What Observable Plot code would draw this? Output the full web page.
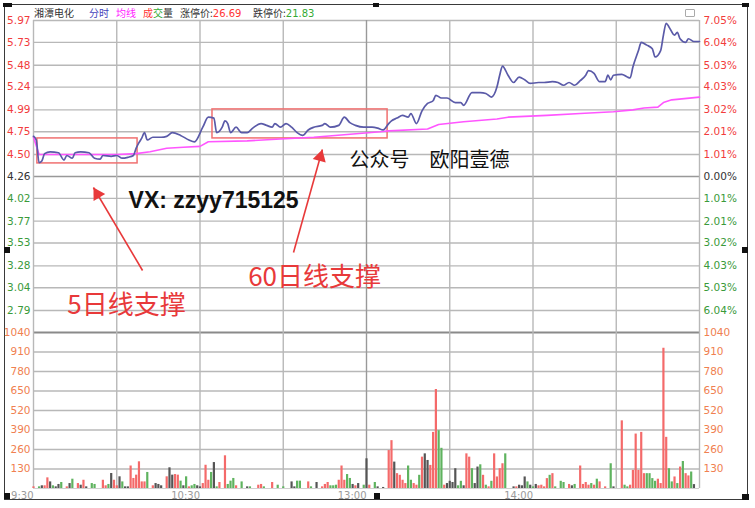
<!DOCTYPE html>
<html><head><meta charset="utf-8">
<script src="https://cdn.jsdelivr.net/npm/d3@7"></script>
<script src="https://cdn.jsdelivr.net/npm/@observablehq/plot@0.6"></script>
<style>
body{margin:0;background:#fff;}
#wrap{position:relative;width:755px;height:508px;overflow:hidden;background:#fff;font-family:"DejaVu Sans",sans-serif;}
#frame{position:absolute;left:4px;top:4px;width:744px;height:496px;box-sizing:border-box;border:1.5px solid #3a3a3a;}
.hd{position:absolute;top:7px;font-size:10px;line-height:12px;font-family:"Noto Sans CJK SC","DejaVu Sans",sans-serif;color:#333;white-space:nowrap}
.num{font-family:"DejaVu Sans",sans-serif}
.blk{position:absolute;background:#111}
#price,#vol{position:absolute;left:0}
#icon{position:absolute;left:685px;top:9px;width:8px;height:6px;border:1px solid #aaa;border-radius:1px}
</style></head><body>
<div id="wrap">
  <div id="frame"></div>
  <div class="hd" style="left:34px">湘潭电化</div>
  <div class="hd" style="left:89px;color:#4444bb">分时</div>
  <div class="hd" style="left:116px;color:#ff22ff">均线</div>
  <div class="hd" style="left:143px"><span style="color:#f33">成</span><span style="color:#3a3">交</span><span>量</span></div>
  <div class="hd" style="left:180px">涨停价:<span class="num" style="color:#f33">26.69</span></div>
  <div class="hd" style="left:253px">跌停价:<span class="num" style="color:#3a3">21.83</span></div>
  <div id="icon"></div>
  <div id="vol" style="top:322px"></div>
  <div id="price" style="top:0px"></div>
  <div class="blk" style="left:3px;top:3px;width:9px;height:4px"></div>
  <div class="blk" style="left:373px;top:3px;width:6px;height:4px"></div>
  <div class="blk" style="left:742px;top:3px;width:7px;height:4px"></div>
  <div class="blk" style="left:4px;top:247px;width:6px;height:6px"></div>
  <div class="blk" style="left:742px;top:247px;width:6px;height:6px"></div>
  <div class="blk" style="left:4px;top:493px;width:6px;height:6px"></div>
  <div class="blk" style="left:374px;top:493px;width:6px;height:6px"></div>
  <div class="blk" style="left:742px;top:494px;width:7px;height:6px"></div>
</div>
<script>
// ---------- data ----------
const priceTickLabels = ["5.97","5.73","5.48","5.24","4.99","4.75","4.50","4.26","4.02","3.77","3.53","3.28","3.04","2.79"];
const pctTickLabels = ["7.05%","6.04%","5.03%","4.03%","3.02%","2.01%","1.01%","0.00%","1.01%","2.01%","3.02%","4.03%","5.03%","6.04%"];
const volTickLabels = ["1040","910","780","650","520","390","260","130"];
const timeTickMinutes = [0, 60, 120, 180];
const timeTickLabels = ["9:30", "10:30", "13:00", "14:00"];
const gridMinutes = [0, 30, 60, 90, 120, 150, 180, 210, 240];
const prevClose = 4.26;

const priceMin = [0,1,2,3,4,6,9,11,12,14,15,17,20,22,24,25,28,30,32,34,36,37,38,39,40,41,43,46,48,50,53,56,58,61,63,65,66,68,69,70,71,73,75,77,79,82,84,86,87,89,91,93,95,97,99,101,104,105,107,110,112,114,116,119,122,124,126,128,129,131,133,135,136,138,140,142,144,145,147,149,152,154,155,158,161,163,165,167,168,169,171,173,175,177,179,182,184,187,189,191,193,195,197,199,200,202,204,206,207,208,209,212,214,215,216,218,219,221,223,224,226,227,228,229,231,232,233,235,236,238,240];
const priceVal = [4.70,4.66,4.41,4.43,4.51,4.53,4.52,4.44,4.49,4.46,4.52,4.53,4.52,4.46,4.45,4.49,4.48,4.49,4.46,4.47,4.49,4.57,4.63,4.68,4.74,4.66,4.69,4.69,4.70,4.74,4.71,4.66,4.64,4.80,4.91,4.90,4.74,4.80,4.87,4.84,4.74,4.80,4.74,4.74,4.79,4.84,4.82,4.80,4.84,4.80,4.84,4.80,4.74,4.71,4.77,4.80,4.82,4.84,4.80,4.82,4.91,4.85,4.82,4.80,4.80,4.79,4.77,4.84,4.87,4.90,4.93,4.91,4.95,4.84,4.98,5.06,5.09,5.15,5.12,5.12,5.07,5.07,5.04,5.18,5.18,5.17,5.13,5.24,5.37,5.47,5.37,5.29,5.35,5.32,5.28,5.29,5.29,5.30,5.29,5.26,5.29,5.26,5.31,5.37,5.42,5.39,5.30,5.30,5.37,5.32,5.37,5.38,5.35,5.34,5.46,5.64,5.73,5.70,5.66,5.57,5.64,5.81,5.94,5.90,5.81,5.84,5.77,5.73,5.77,5.74,5.74];

const avgMin = [0,2,10,20,30,37,42,48,54,60,63,77,89,101,113,125,128,142,146,155,167,171,185,197,209,216,220,225,227,230,240];
const avgVal = [4.69,4.50,4.50,4.50,4.50,4.51,4.53,4.57,4.58,4.59,4.64,4.65,4.67,4.69,4.72,4.75,4.76,4.78,4.83,4.86,4.89,4.91,4.93,4.95,4.97,4.99,5.01,5.02,5.07,5.10,5.13];

const volMin = [0,2,3,4,5,6,7,8,9,10,12,13,14,16,17,18,19,21,22,25,26,27,28,29,30,31,32,33,34,35,36,37,38,39,40,41,43,44,45,46,48,49,50,51,52,53,54,55,56,57,58,59,60,61,62,63,64,65,66,67,69,70,71,72,73,75,77,78,81,82,83,86,88,90,93,94,95,96,99,100,102,104,105,106,107,108,109,110,111,112,113,114,115,116,117,119,120,
121,123,124,126,128,129,130,131,132,133,134,135,136,137,138,139,140,141,142,143,144,145,146,147,148,149,150,151,152,153,154,155,156,157,158,159,160,161,162,163,164,165,166,167,168,169,170,173,174,175,176,177,178,179,180,181,182,183,184,185,186,187,188,190,191,193,194,195,197,198,199,200,201,202,203,204,206,208,209,212,213,214,215,216,217,218,219,220,221,222,223,224,225,226,227,228,229,230,231,232,233,234,235,236,237,238];
const volVal = [11,11,18,18,71,44,18,11,27,40,11,33,62,33,22,55,11,33,27,55,18,27,100,55,18,78,44,11,11,150,67,89,178,44,44,107,18,33,27,18,78,138,89,93,89,49,18,78,11,18,27,18,11,33,155,55,107,173,11,40,218,27,49,67,18,44,11,11,22,27,11,40,22,11,44,11,49,49,44,11,40,11,27,40,18,18,22,55,150,55,93,67,27,18,33,22,198,
22,40,11,7,253,319,176,99,88,55,33,150,55,33,22,88,209,231,187,154,374,660,385,268,22,33,48,40,132,18,48,18,231,209,132,33,143,158,88,22,11,48,231,77,132,165,231,11,11,22,18,77,44,22,11,27,18,22,11,66,88,99,11,48,40,27,18,27,150,27,40,22,33,22,62,44,11,165,11,451,22,11,22,121,363,121,374,99,99,99,66,48,62,33,935,341,132,44,77,33,143,180,99,84,110,26];
const volDir = ["r","g","k","r","r","k","g","k","k","g","r","k","g","r","k","r","k","g","g","r","r","g","k","r","r","k","g","k","k","r","r","r","r","r","r","g","r","k","k","k","r","k","k","r","r","g","k","g","r","g","g","k","k","r","r","r","g","k","g","r","r","g","g","g","r","g","k","g","r","r","g","r","g","g","k","k","g","g","r","g","k","r","r","r","g","g","g","r","r","r","g","g","k","r","k","g","k",
"r","g","k","k","r","r","k","r","r","r","r","g","g","r","r","g","r","k","k","r","r","r","g","g","r","k","k","k","k","g","g","k","r","r","g","k","k","g","r","g","r","g","r","r","r","r","g","k","r","k","k","k","g","k","g","k","r","r","r","r","g","r","g","g","g","r","k","g","r","r","r","r","g","r","g","r","r","g","k","r","g","g","r","r","r","r","r","r","g","g","g","g","r","r","r","r","g","g","r","g","r","g","r","r","g","k"];

// annotations (data units: minute, price)
const boxX1 = [1.4, 64.5], boxX2 = [37.5, 127.6], boxY1 = [4.403, 4.677], boxY2 = [4.677, 4.995];
const arrowX1 = [39.3, 93.7], arrowY1 = [3.229, 3.427], arrowX2 = [21.6, 104.1], arrowY2 = [4.139, 4.556];
const noteText = ["VX: zzyy715125", "公众号　欧阳壹德", "5日线支撑", "60日线支撑"];
const noteX = [64.9, 142.7, 33.5, 101.3];
const noteY = [3.997, 4.435, 2.845, 3.152];

// ---------- build ----------
const W = 755, ML = 33, MR = 56;
const priceTop = 5.97, priceBottom = 2.549;
const kx = (W - ML - MR) / 240, ky = 312 / (priceTop - priceBottom);
const priceData = priceMin.map((m, i) => ({m, p: priceVal[i]}));
const avgData = avgMin.map((m, i) => ({m, p: avgVal[i]}));
const volData = volMin.map((m, i) => ({m, v: volVal[i], d: volDir[i]}));
const boxes = boxX1.map((x, i) => ({x1: x, x2: boxX2[i], y1: boxY1[i], y2: boxY2[i]}));
const arrows = arrowX1.map((x, i) => ({x1: x, y1: arrowY1[i], x2: arrowX2[i], y2: arrowY2[i]}));
const heads = arrows.map(a => {
  const dx = (a.x2 - a.x1) * kx, dy = -(a.y2 - a.y1) * ky, L = Math.hypot(dx, dy);
  const ux = dx / L, uy = dy / L, back = 7.8;
  return {cx: a.x2 - ux * back / kx, cy: a.y2 + uy * back / ky, angle: Math.atan2(ux, -uy) * 180 / Math.PI};
});
const notes = noteText.map((t, i) => ({t, x: noteX[i], y: noteY[i]}));
const ticks = priceTickLabels.map((l, i) => ({v: +l, l, pct: pctTickLabels[i], c: i < 7 ? "#f23c3c" : (i === 7 ? "#333" : "#3a9a3a")}));
const RED = "#e8393a";
const grid = "#b8b8b8";
const tf = "DejaVu Sans";

const pricePlot = Plot.plot({
  width: W, height: 332, marginLeft: ML, marginRight: MR, marginTop: 20, marginBottom: 0,
  style: {background: "transparent", overflow: "visible"},
  x: {domain: [0, 240], axis: null},
  y: {domain: [priceBottom, priceTop], axis: null},
  marks: [
    Plot.ruleY(ticks.filter(d => d.v !== prevClose), {y: "v", stroke: grid, strokeWidth: 1.4}),
    Plot.ruleY([prevClose], {stroke: "#999", strokeWidth: 1.4}),
    Plot.ruleX(gridMinutes, {x: d => d, y1: priceBottom, y2: priceTop, stroke: d => d === 120 ? "#999" : grid, strokeWidth: 1.4}),
    Plot.rect(boxes, {x1: "x1", x2: "x2", y1: "y1", y2: "y2", fill: "none", stroke: "#f07070", strokeWidth: 1.5}),
    Plot.line(avgData, {x: "m", y: "p", stroke: "#ff55ff", strokeWidth: 1.6}),
    Plot.line(priceData, {x: "m", y: "p", stroke: "#5a5aa8", strokeWidth: 1.7, curve: "monotone-x"}),
    Plot.link(arrows, {x1: "x1", y1: "y1", x2: "x2", y2: "y2", stroke: RED, strokeWidth: 1.6}),
    Plot.dot(heads, {x: "cx", y: "cy", symbol: "triangle", r: 5, rotate: "angle", fill: RED, stroke: "none"}),
    Plot.text(notes.slice(0, 1), {x: "x", y: "y", text: "t", fontFamily: "Liberation Sans, Arial, sans-serif", fontWeight: "bold", fontSize: 23, fill: "#111"}),
    Plot.text(notes.slice(1, 2), {x: "x", y: "y", text: "t", fontFamily: "Noto Sans CJK SC", fontSize: 20, fill: "#111"}),
    Plot.text(notes.slice(2), {x: "x", y: "y", text: "t", fontFamily: "Noto Sans CJK SC", fontSize: 26, fill: RED}),
    Plot.text(ticks, {x: 0, y: "v", text: "l", fill: "c", textAnchor: "end", dx: -3, fontFamily: tf, fontSize: 10.5}),
    Plot.text(ticks, {x: 240, y: "v", text: "pct", fill: "c", textAnchor: "start", dx: 4, fontFamily: tf, fontSize: 10.5})
  ]
});
document.getElementById("price").appendChild(pricePlot);

const volTicks = volTickLabels.map(l => ({v: +l, l}));
const volColor = {r: "#f46a6a", g: "#5fb35f", k: "#555"};
const volPlot = Plot.plot({
  width: W, height: 186, marginLeft: ML, marginRight: MR, marginTop: 10, marginBottom: 20,
  style: {background: "transparent", overflow: "visible"},
  x: {domain: [0, 240], axis: null},
  y: {domain: [0, 1040], axis: null},
  marks: [
    Plot.ruleY(volTicks.filter(d => d.v !== 1040), {y: "v", stroke: grid, strokeWidth: 1.4}),
    Plot.ruleY([0], {stroke: "#d0d0d0", strokeWidth: 1}),
    Plot.ruleY([1040], {stroke: "#8a8a8a", strokeWidth: 2}),
    Plot.ruleX(gridMinutes, {x: d => d, y1: 0, y2: 1040, stroke: d => d === 120 ? "#999" : grid, strokeWidth: 1.4}),
    Plot.ruleX(volData, {x: "m", y1: 0, y2: "v", stroke: d => volColor[d.d], strokeWidth: 2.2}),
    Plot.text(volTicks, {x: 0, y: "v", text: "l", textAnchor: "end", dx: -3, fill: "#f08050", fontFamily: tf, fontSize: 10.5}),
    Plot.text(volTicks, {x: 240, y: "v", text: "l", textAnchor: "start", dx: 4, fill: "#f08050", fontFamily: tf, fontSize: 10.5}),
    Plot.text(timeTickMinutes, {x: d => d, y: 0, text: (d, i) => timeTickLabels[i], textAnchor: "end", dy: 7, fill: "#9a9a9a", fontFamily: tf, fontSize: 10})
  ]
});
document.getElementById("vol").appendChild(volPlot);
</script>
</body></html>
